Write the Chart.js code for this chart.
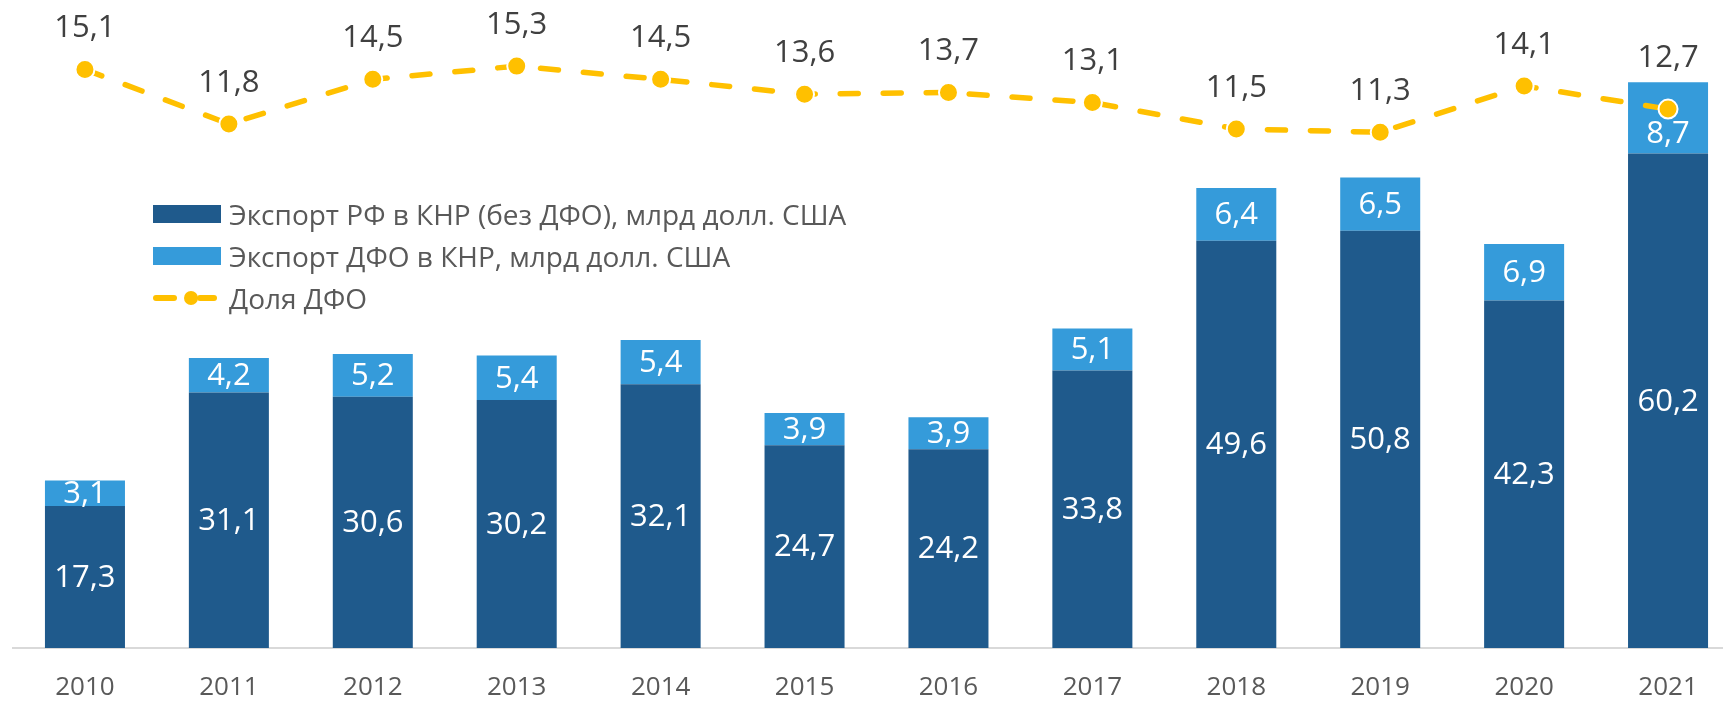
<!DOCTYPE html>
<html>
<head>
<meta charset="utf-8">
<script src="https://cdn.jsdelivr.net/npm/chart.js@4.4.0/dist/chart.umd.min.js"></script>
<style>
  html, body { margin: 0; background: #fff; overflow: hidden; }
  #wrap { position: relative; width: 1741px; height: 701px; }
  #legend {
    position: absolute; left: 153px; top: 193px;
    font-family: "Open Sans", sans-serif; font-size: 28px; color: #595959;
  }
  .row { height: 42px; display: flex; align-items: center; white-space: nowrap; }
  .box { width: 68px; height: 18px; margin-right: 8px; }
  .mark { width: 68px; height: 18px; margin-right: 8px; position: relative; }
  .mark .d { position: absolute; top: 6px; height: 6px; width: 24px; border-radius: 3px; background: #FFC000; }
  .mark .c { position: absolute; top: 2px; left: 31px; width: 14px; height: 14px; border-radius: 50%; background: #FFC000; }
</style>
</head>
<body>
<div id="wrap">
  <canvas id="chart"></canvas>
  <div id="legend"></div>
</div>
<script>
// years on the x axis
var years = ['2010', '2011', '2012', '2013', '2014', '2015', '2016', '2017', '2018', '2019', '2020', '2021'];
// export of Russia to China without the Far East, bln USD
var exportRF = [17.3, 31.1, 30.6, 30.2, 32.1, 24.7, 24.2, 33.8, 49.6, 50.8, 42.3, 60.2];
// export of the Far East to China, bln USD
var exportDFO = [3.1, 4.2, 5.2, 5.4, 5.4, 3.9, 3.9, 5.1, 6.4, 6.5, 6.9, 8.7];
// share of the Far East, %
var shareDFO = [15.1, 11.8, 14.5, 15.3, 14.5, 13.6, 13.7, 13.1, 11.5, 11.3, 14.1, 12.7];

var seriesNames = [
  'Экспорт РФ в КНР (без ДФО), млрд долл. США',
  'Экспорт ДФО в КНР, млрд долл. США',
  'Доля ДФО'
];

var darkBlue = '#1F5A8C';
var lightBlue = '#359BDA';
var yellow = '#FFC000';

function fmt(v) {
  return v.toFixed(1).replace('.', ',');
}

// value labels: centred in bar segments, above line points
var valueLabels = {
  id: 'valueLabels',
  afterDatasetsDraw: function(chart) {
    var ctx = chart.ctx;
    var topBar = chart.getDatasetMeta(1).data;
    var points = chart.getDatasetMeta(2).data;
    ctx.save();
    ctx.font = '31px "Open Sans", sans-serif';
    ctx.textAlign = 'center';
    ctx.textBaseline = 'middle';
    chart.data.datasets.forEach(function(ds, di) {
      var meta = chart.getDatasetMeta(di);
      meta.data.forEach(function(el, i) {
        var txt = fmt(ds.data[i]);
        var y;
        if (ds.type === 'line') {
          // keep the label clear of the bar below it
          y = Math.min(el.y - 41, topBar[i].y - 24);
          ctx.fillStyle = '#404040';
        } else {
          y = (el.y + el.base) / 2 + 1;
          // push the label below a line point sitting in the segment
          var p = points[i];
          if (p.y > el.y && p.y < el.base && Math.abs(p.y - y) < 25) {
            y = p.y + 25;
          }
          ctx.fillStyle = '#ffffff';
        }
        ctx.fillText(txt, el.x, y);
      });
    });
    ctx.restore();
  }
};

var ctx = document.getElementById('chart').getContext('2d');
var chart = new Chart(ctx, {
  type: 'bar',
  data: {
    labels: years,
    datasets: [
      {
        label: seriesNames[0],
        data: exportRF,
        backgroundColor: darkBlue,
        stack: 's',
        order: 1,
        categoryPercentage: 1,
        barPercentage: 0.556
      },
      {
        label: seriesNames[1],
        data: exportDFO,
        backgroundColor: lightBlue,
        stack: 's',
        order: 1,
        categoryPercentage: 1,
        barPercentage: 0.556
      },
      {
        type: 'line',
        label: seriesNames[2],
        data: shareDFO,
        yAxisID: 'y2',
        order: 0,
        borderColor: yellow,
        borderWidth: 5.5,
        borderDash: [18, 25],
        borderCapStyle: 'round',
        pointRadius: 9.5,
        pointBorderWidth: 2,
        pointBorderColor: '#ffffff',
        pointBackgroundColor: yellow,
        tension: 0
      }
    ]
  },
  options: {
    responsive: true,
    maintainAspectRatio: false,
    animation: false,
    layout: { autoPadding: false, padding: { left: 13, right: 1, top: 0, bottom: 0 } },
    plugins: {
      legend: { display: false },
      tooltip: { enabled: false }
    },
    scales: {
      x: {
        stacked: true,
        grid: { display: false, drawTicks: false },
        border: { display: true, color: '#D9D9D9', width: 2 },
        ticks: {
          color: '#595959',
          padding: 27,
          maxRotation: 0,
          autoSkip: false,
          font: { family: 'Open Sans', size: 26, lineHeight: 1 }
        },
        afterFit: function(scale) { scale.height = 53; }
      },
      y: {
        stacked: true,
        display: false,
        min: 0,
        max: 78.9
      },
      y2: {
        display: false,
        min: -19.9,
        max: 19.3
      }
    }
  },
  plugins: [valueLabels]
});

// legend built from the chart datasets
var legend = document.getElementById('legend');
chart.data.datasets.forEach(function(ds) {
  var row = document.createElement('div');
  row.className = 'row';
  var mark = document.createElement('div');
  if (ds.type === 'line') {
    mark.className = 'mark';
    mark.innerHTML = '<span class="d" style="left:0"></span><span class="c"></span><span class="d" style="left:44px;width:20px"></span>';
  } else {
    mark.className = 'box';
    mark.style.background = ds.backgroundColor;
  }
  var text = document.createElement('span');
  text.textContent = ds.label;
  row.appendChild(mark);
  row.appendChild(text);
  legend.appendChild(row);
});
</script>
</body>
</html>
